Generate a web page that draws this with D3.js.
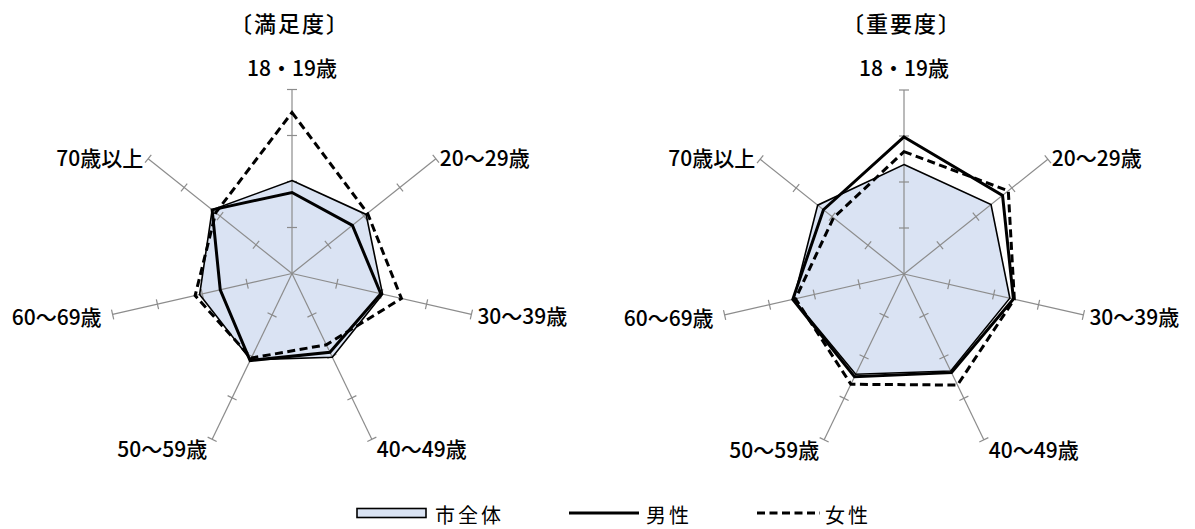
<!DOCTYPE html>
<html><head><meta charset="utf-8">
<script src="https://cdn.jsdelivr.net/npm/d3@7"></script>
<style>
html,body{margin:0;padding:0;background:#fff;}
svg{display:block;font-family:"Noto Sans CJK JP","Noto Sans",sans-serif;}
</style></head>
<body><svg id="c" width="1195" height="529"></svg>
<script>
const categories = ["18・19歳","20～29歳","30～39歳","40～49歳","50～59歳","60～69歳","70歳以上"];
const seriesNames = ["市全体","男性","女性"];
const chartTitles = ["〔満足度〕","〔重要度〕"];
const tickValues = [0.5, 1.0, 1.5, 2.0];
// 満足度
const satWhole  = [1.01, 1.03, 1.01, 1.01, 1.04, 1.03, 1.11];
const satMale   = [0.88, 0.84, 0.99, 0.95, 1.05, 0.80, 1.11];
const satFemale = [1.75, 1.05, 1.22, 0.86, 1.02, 1.08, 1.06];
// 重要度
const impWhole  = [1.19, 1.21, 1.18, 1.17, 1.21, 1.23, 1.20];
const impMale   = [1.49, 1.37, 1.22, 1.19, 1.24, 1.24, 1.12];
const impFemale = [1.33, 1.45, 1.23, 1.34, 1.33, 1.21, 0.98];

const svg = d3.select("#c");
const R = 184;
const r = d3.scaleLinear().domain([0, 2]).range([0, R]);
const ang = d3.scalePoint().domain(categories).range([0, 2*Math.PI*(categories.length-1)/categories.length]);
const AX = "#8c8c8c";

const labelPos = [
  {anchor:"middle", dx:0, dy:-23},
  {anchor:"start", dx:4, dy:-2},
  {anchor:"start", dx:6, dy:1},
  {anchor:"start", dx:5, dy:9},
  {anchor:"end", dx:-5, dy:9},
  {anchor:"end", dx:-11, dy:2},
  {anchor:"end", dx:-5, dy:-2}
];

function radar(cx, cy, title, whole, male, female) {
  const g = svg.append("g").attr("transform", `translate(${cx},${cy})`);
  const line = d3.lineRadial().angle((d,i)=>ang(categories[i])).radius(d=>r(d)).curve(d3.curveLinearClosed);
  g.append("path").attr("d", line(whole)).attr("fill", "#dae3f3").attr("stroke", "none");
  categories.forEach((c, i) => {
    const a = ang(c);
    const ax = g.append("g").attr("transform", `rotate(${a*180/Math.PI})`);
    ax.append("line").attr("x1",0).attr("y1",0).attr("x2",0).attr("y2",-r(2)).attr("stroke",AX).attr("stroke-width",1.2);
    ax.selectAll("line.t").data(tickValues).enter().append("line").attr("class","t")
      .attr("x1",-5).attr("x2",5).attr("y1",d=>-r(d)).attr("y2",d=>-r(d))
      .attr("stroke",AX).attr("stroke-width",1.2);
    const px = Math.sin(a)*R, py = -Math.cos(a)*R;
    const lp = labelPos[i];
    g.append("text").attr("x", px+lp.dx).attr("y", py+lp.dy)
      .attr("text-anchor", lp.anchor).attr("dominant-baseline","central")
      .attr("font-size", 21).attr("font-weight", 500).attr("fill","#000").text(c);
  });
  g.append("path").attr("d", line(whole)).attr("fill","none").attr("stroke","#000").attr("stroke-width",1.6).attr("stroke-linejoin","miter");
  g.append("path").attr("d", line(male)).attr("fill","none").attr("stroke","#000").attr("stroke-width",3).attr("stroke-linejoin","miter");
  g.append("path").attr("d", line(female)).attr("fill","none").attr("stroke","#000").attr("stroke-width",3).attr("stroke-dasharray","8,4.5");
  svg.append("text").attr("x", cx-2).attr("y", 22).attr("text-anchor","middle").attr("dominant-baseline","central")
    .attr("font-size", 22).attr("font-weight",500).attr("letter-spacing",2).text(title);
}

radar(292, 273.5, chartTitles[0], satWhole, satMale, satFemale);
radar(904, 274, chartTitles[1], impWhole, impMale, impFemale);

// legend
const lg = svg.append("g");
const ly = 513;
lg.append("rect").attr("x",357).attr("y",508.5).attr("width",69).attr("height",9).attr("fill","#dae3f3").attr("stroke","#000").attr("stroke-width",1.6);
lg.append("text").attr("x",435).attr("y",ly+1).attr("dominant-baseline","central").attr("font-size",20).attr("letter-spacing",3).text(seriesNames[0]);
lg.append("line").attr("x1",569).attr("x2",639).attr("y1",ly).attr("y2",ly).attr("stroke","#000").attr("stroke-width",3);
lg.append("text").attr("x",646).attr("y",ly+1).attr("dominant-baseline","central").attr("font-size",20).attr("letter-spacing",3).text(seriesNames[1]);
lg.append("line").attr("x1",757).attr("x2",820).attr("y1",ly).attr("y2",ly).attr("stroke","#000").attr("stroke-width",3).attr("stroke-dasharray","8,4.5");
lg.append("text").attr("x",825).attr("y",ly+1).attr("dominant-baseline","central").attr("font-size",20).attr("letter-spacing",3).text(seriesNames[2]);
</script></body></html>
